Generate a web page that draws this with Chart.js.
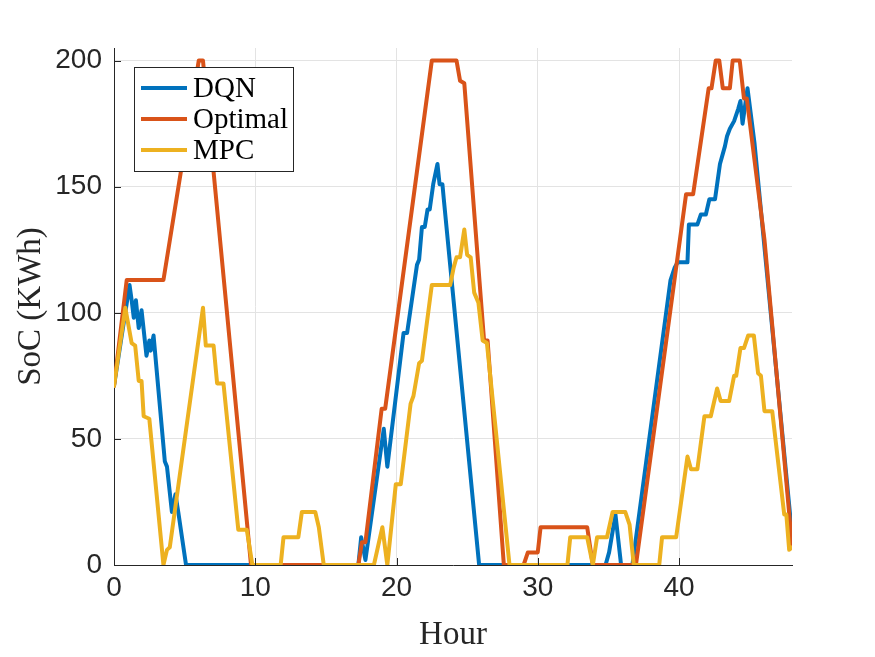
<!DOCTYPE html>
<html>
<head>
<meta charset="utf-8">
<script src="https://cdn.jsdelivr.net/npm/chart.js@4.4.1/dist/chart.umd.min.js"></script>
<style>
  html, body { margin: 0; padding: 0; background: #fff; }
</style>
</head>
<body>
<canvas id="canvas" width="875" height="657"></canvas>
<script>
  const colors = {
    dqn: "#0072BD",
    optimal: "#D95319",
    mpc: "#EDB120",
    axis: "#262626",
    grid: "#e3e3e3"
  };

  // x ticks shown / y ticks shown
  const hourTicks = [0, 10, 20, 30, 40];
  const socTicks = [0, 50, 100, 150, 200];

  // DQN state of charge (breakpoints)
  const dqnHours = [0, 1.1, 1.25, 1.4, 1.55, 1.75, 1.95, 2.3, 2.5, 2.6, 2.8, 3.6, 3.75, 4.1, 4.35, 4.55, 5.1,
    17.3, 17.5, 17.8, 19.1, 19.35, 20.5, 20.75, 21.45, 21.6, 21.8, 22.0, 22.2, 22.35, 22.6, 22.9, 23.05, 23.25, 23.35, 25.85,
    34.8, 35.05, 35.5, 35.9, 36.7, 39.4, 39.7, 39.9, 40.6, 40.7, 41.3, 41.55, 41.9, 42.15, 42.55, 42.9, 43.25, 43.4,
    43.6, 43.9, 44.2, 44.35, 44.5, 44.65, 44.85, 45.35, 48];
  const dqnSoc = [71, 111, 105, 98, 105, 94, 101, 83, 89, 85, 91, 41, 39, 21, 28, 21, 0,
    0, 11, 2, 54, 39, 92, 92, 119, 121, 134, 134, 141, 141, 151, 159, 151, 151, 145, 0,
    0, 5, 20, 0, 0, 113, 118, 120, 120, 135, 135, 139, 139, 145, 145, 159, 166, 170,
    173, 176, 181, 184, 175, 181, 189, 167, 12];

  // Optimal state of charge
  const optHours = [0, 0.9, 3.5, 6.0, 6.3, 9.7, 17.3, 17.55, 17.8, 18.95, 19.2, 22.5, 24.25, 24.5, 24.8, 26.2, 26.45,
    27.6, 29.0, 29.3, 30.0, 30.2, 33.5, 33.9, 36.95, 40.5, 41.0, 42.1, 42.3, 42.6, 42.85, 43.1, 43.6, 43.8, 44.3, 44.6,
    44.8, 46.05, 47.2, 48];
  const optSoc = [71, 113, 113, 200, 200, 0, 0, 9, 9, 62, 62, 200, 200, 192, 191, 89, 89,
    0, 0, 5, 5, 15, 15, 0, 0, 147, 147, 189, 189, 200, 200, 189, 189, 200, 200, 185,
    185, 129, 58, 8];

  // MPC state of charge
  const mpcHours = [0, 0.8, 1.25, 1.5, 1.75, 1.95, 2.1, 2.5, 3.5, 3.75, 3.95, 6.3, 6.5, 7.05, 7.3, 7.75, 8.8, 9.4, 9.8,
    11.8, 12.0, 13.05, 13.3, 14.25, 14.5, 14.85, 18.4, 19.0, 19.35, 19.95, 20.3, 21.0, 21.2, 21.6, 21.8, 22.5, 23.8,
    24.05, 24.25, 24.5, 24.8, 25.0, 25.25, 25.5, 25.8, 26.1, 26.4, 28.0, 32.1, 32.3, 33.5, 33.9, 34.2, 34.9, 35.3,
    36.2, 36.5, 36.8, 38.6, 38.8, 39.8, 40.6, 40.85, 41.3, 41.8, 42.25, 42.7, 42.95, 43.55, 43.9, 44.05, 44.35,
    44.6, 44.9, 45.3, 45.6, 45.8, 46.05, 46.6, 47.45, 47.6, 47.8, 48];
  const mpcSoc = [71, 102, 88, 87, 73, 73, 59, 58, 0, 6, 7, 102, 87, 87, 72, 72, 14, 14, 0,
    0, 11, 11, 21, 21, 15, 0, 0, 15, 0, 32, 32, 64, 67, 80, 81, 111, 111,
    118, 122, 122, 133, 123, 122, 108, 104, 89, 88, 0, 0, 11, 11, 0, 11, 11, 21,
    21, 16, 0, 0, 11, 11, 43, 38, 38, 59, 59, 70, 65, 65, 75, 75, 86,
    86, 91, 91, 76, 75, 61, 61, 20, 20, 6, 7];

  const toPoints = (xs, ys) => xs.map((x, i) => ({ x: x, y: ys[i] }));

  const serif = "'Liberation Serif', 'DejaVu Serif', serif";
  const sans = "'Liberation Sans', Arial, sans-serif";

  // MATLAB-like inward tick marks
  const insideTicks = {
    id: "insideTicks",
    afterDraw(chart) {
      const c = chart.ctx;
      const xs = chart.scales.x, ys = chart.scales.y;
      const area = chart.chartArea;
      c.save();
      c.strokeStyle = colors.axis;
      c.lineWidth = 1;
      hourTicks.forEach(v => {
        const px = Math.round(xs.getPixelForValue(v)) + 0.5;
        c.beginPath();
        c.moveTo(px, area.bottom);
        c.lineTo(px, area.bottom - 7);
        c.stroke();
      });
      socTicks.forEach(v => {
        const py = Math.round(ys.getPixelForValue(v)) + 0.5;
        c.beginPath();
        c.moveTo(area.left, py);
        c.lineTo(area.left + 7, py);
        c.stroke();
      });
      c.restore();
    }
  };

  // legend box inside the axes, top left
  const boxLegend = {
    id: "boxLegend",
    afterDraw(chart) {
      const c = chart.ctx;
      const area = chart.chartArea;
      const x0 = area.left + 20, y0 = area.top + 19;
      c.save();
      c.fillStyle = "#fff";
      c.fillRect(x0, y0, 159, 104);
      c.strokeStyle = colors.axis;
      c.lineWidth = 1;
      c.strokeRect(x0 + 0.5, y0 + 0.5, 159, 104);
      c.font = "29px " + serif;
      c.textBaseline = "middle";
      chart.data.datasets.forEach((ds, i) => {
        const y = y0 + 21 + i * 31;
        c.strokeStyle = ds.borderColor;
        c.lineWidth = 4;
        c.beginPath();
        c.moveTo(x0 + 7, y);
        c.lineTo(x0 + 53, y);
        c.stroke();
        c.fillStyle = "#000";
        c.fillText(ds.label, x0 + 59, y + 1);
      });
      c.restore();
    }
  };

  const ctx = document.getElementById("canvas").getContext("2d");

  const chart = new Chart(ctx, {
    type: "line",
    data: {
      datasets: [
        { label: "DQN", data: toPoints(dqnHours, dqnSoc), borderColor: colors.dqn, order: 3 },
        { label: "Optimal", data: toPoints(optHours, optSoc), borderColor: colors.optimal, order: 2 },
        { label: "MPC", data: toPoints(mpcHours, mpcSoc), borderColor: colors.mpc, order: 1 }
      ]
    },
    options: {
      responsive: false,
      animation: false,
      elements: {
        line: { borderWidth: 4, tension: 0, borderJoinStyle: "round", borderCapStyle: "round" },
        point: { radius: 0 }
      },
      layout: { padding: { left: 0, top: 48, right: 83, bottom: 0 } },
      scales: {
        x: {
          type: "linear",
          min: 0,
          max: 48,
          afterFit(scale) { scale.height = 92; },
          afterBuildTicks(scale) { scale.ticks = hourTicks.map(v => ({ value: v })); },
          grid: { color: colors.grid, drawTicks: false },
          border: { display: true, color: colors.axis, width: 1 },
          ticks: { color: colors.axis, font: { family: sans, size: 28 }, padding: 6, maxRotation: 0 },
          title: { display: true, text: "Hour", color: colors.axis, font: { family: serif, size: 33 }, padding: { bottom: 2 } }
        },
        y: {
          min: 0,
          max: 205,
          afterFit(scale) { scale.width = 114; },
          afterBuildTicks(scale) { scale.ticks = socTicks.map(v => ({ value: v })); },
          grid: { color: colors.grid, drawTicks: false },
          border: { display: true, color: colors.axis, width: 1 },
          ticks: { color: colors.axis, font: { family: sans, size: 28 }, padding: 12 },
          title: { display: true, text: "SoC (KWh)", color: colors.axis, font: { family: serif, size: 33 }, padding: { top: 12 } }
        }
      },
      plugins: {
        legend: { display: false },
        tooltip: { enabled: false }
      }
    },
    plugins: [insideTicks, boxLegend]
  });
</script>
</body>
</html>
